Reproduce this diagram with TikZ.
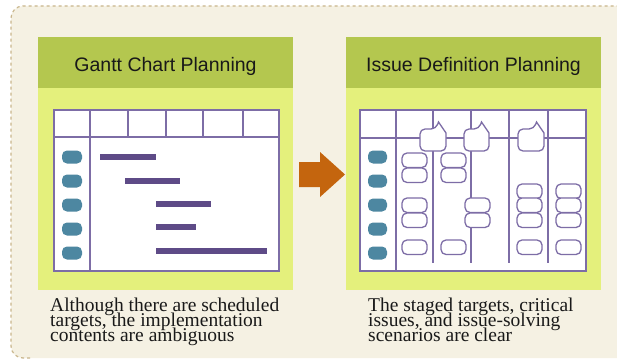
\documentclass[tikz,border=0pt]{standalone}
\usepackage{fontspec}
\setmainfont{Liberation Serif}
\newfontfamily\headfont{Liberation Sans}
\definecolor{paper}{HTML}{F5F1E3}
\definecolor{frameline}{HTML}{C9B68C}
\definecolor{headgreen}{HTML}{B4C74F}
\definecolor{bodygreen}{HTML}{E4F07C}
\definecolor{gridline}{HTML}{7D6DA6}
\definecolor{barcol}{HTML}{5E4B87}
\definecolor{pillcol}{HTML}{4D87A1}
\definecolor{arrowcol}{HTML}{C4650E}
\tikzset{
  headtext/.style={font=\headfont\fontsize{19.5}{22}\selectfont, text=black!90, anchor=base, inner sep=0},
  captext/.style={font=\fontsize{19.5}{15}\selectfont, text=black!90, anchor=base west, inner sep=0},
  grid/.style={draw=gridline, line width=1.4pt},
  pill/.style={fill=pillcol, rounded corners=5pt},
  bar/.style={fill=barcol},
  itembox/.style={draw=gridline, line width=1.3pt, fill=white, rounded corners=5pt},
}
\begin{document}
\begin{tikzpicture}[x=1pt, y=-1pt]
\useasboundingbox (0,0) rectangle (617,361);

% outer frame
\fill[paper, rounded corners=12pt] (11,6) rectangle (640,358);
\draw[frameline, dashed, line width=1.2pt, rounded corners=12pt] (30,358) -- (11,358) -- (11,6) -- (640,6);

% ---------- left panel: Gantt chart ----------
\fill[headgreen] (38,37) rectangle (293,88);
\fill[bodygreen] (38,88) rectangle (293,290);
\node[headtext] (ganttTitle) at (165.5,71.5) {Gantt Chart Planning};
\draw[grid, fill=white] (54,110) rectangle (279,271);
\draw[grid] (54,137) -- (279,137);
\draw[grid] (90,110) -- (90,271);
\foreach \x in {128,166,203,243} \draw[grid] (\x,110) -- (\x,137);
\foreach \y in {157,181,205,229,253} \fill[pill] (62,\y-6.5) rectangle (82,\y+6.5);
\fill[bar] (100,154) rectangle (156,160);
\fill[bar] (125,178) rectangle (180,184);
\fill[bar] (156,201) rectangle (211,207);
\fill[bar] (156,224) rectangle (196,230);
\fill[bar] (156,248) rectangle (267,254);
\node[captext] (leftCapA) at (50,311.5) {Although there are scheduled};
\node[captext] (leftCapB) at (50,326.5) {targets, the implementation};
\node[captext] (leftCapC) at (50,341.5) {contents are ambiguous};

% ---------- arrow ----------
\fill[arrowcol] (299,162) -- (320,162) -- (320,152) -- (345,174.5) -- (320,197) -- (320,187) -- (299,187) -- cycle;

% ---------- right panel: issue definition ----------
\fill[headgreen] (346,37) rectangle (601,88);
\fill[bodygreen] (346,88) rectangle (601,290);
\node[headtext] (issueTitle) at (473.5,71.5) {Issue Definition Planning};
\draw[grid, fill=white] (360,110) rectangle (586,271);
\draw[grid] (360,138) -- (586,138);
\draw[grid] (396,110) -- (396,271);
\foreach \x in {433,471,509,548} \draw[grid] (\x,110) -- (\x,263);
\foreach \y in {157,181,205,229,253} \fill[pill] (368,\y-6.5) rectangle (387,\y+6.5);

% speech bubbles on the header line
\foreach \l/\r in {420/446,464/489,518/544}{
  \draw[itembox, rounded corners=0pt]
    [rounded corners=5pt] (\l,129) -- (\r-10,129)
    [sharp corners] -- (\r-7.5,122) -- (\r,133)
    [rounded corners=5pt] -- (\r,151) -- (\l,151) -- cycle;
}

% item boxes
\foreach \l/\t in {402/153,402/168,402/198,402/213,402/240,
                   441/153,441/168,441/240,
                   465/198,465/213,
                   517/184,517/198,517/213,517/240,
                   556/184,556/198,556/213,556/240}
  \draw[itembox] (\l,\t) rectangle (\l+25,\t+14.5);

\node[captext] (rightCapA) at (368,311.5) {The staged targets, critical};
\node[captext] (rightCapB) at (368,326.5) {issues, and issue-solving};
\node[captext] (rightCapC) at (368,341.5) {scenarios are clear};
\end{tikzpicture}
\end{document}
